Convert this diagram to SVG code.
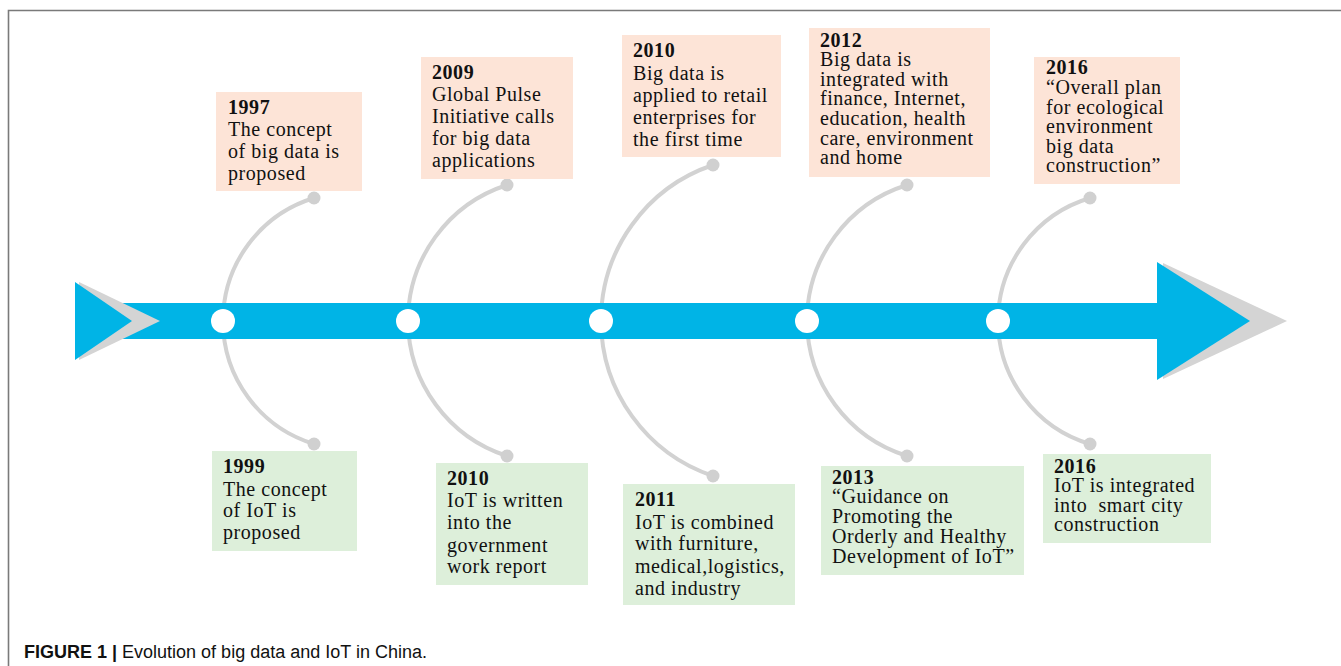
<svg xmlns="http://www.w3.org/2000/svg" width="1341" height="666" viewBox="0 0 1341 666">
<style>
.frame{stroke:#7a7a7a;stroke-width:1.6;fill:none}
.bar{fill:#00b4e6}
.shadow{fill:#d4d4d4}
.arc{fill:none;stroke:#d2d2d2;stroke-width:4}
.dot{fill:#d0d0d0}
.node{fill:#ffffff}
.pink{fill:#fde4d7}
.green{fill:#ddefda}
.t{font-family:"Liberation Serif","Times New Roman",serif;font-size:20px;letter-spacing:0.55px;fill:#111}
.y{font-weight:bold}
.cap{font-family:"Liberation Sans",Arial,sans-serif;font-size:18px;fill:#111}
</style>
<rect x="0" y="0" width="1341" height="666" fill="#ffffff"/>
<path class="frame" d="M8.5,666 V10.5 H1341"/>

<g id="connectors">
<path class="arc" d="M314,198 A128.6,128.6 0 0 0 223,321 A128.6,128.6 0 0 0 314,444"/>
<path class="arc" d="M507,185 A142.9,142.9 0 0 0 408,321 A142.9,142.9 0 0 0 507,456"/>
<path class="arc" d="M713,165 A164.6,164.6 0 0 0 601,321 A164.6,164.6 0 0 0 713,476"/>
<path class="arc" d="M907,185 A142.5,142.5 0 0 0 807,321 A142.5,142.5 0 0 0 907,456"/>
<path class="arc" d="M1090,198 A128.9,128.9 0 0 0 998,321 A128.9,128.9 0 0 0 1090,444"/>
<circle class="dot" cx="314" cy="198" r="6.5"/>
<circle class="dot" cx="314" cy="444" r="6.5"/>
<circle class="dot" cx="507" cy="185" r="6.5"/>
<circle class="dot" cx="507" cy="456" r="6.5"/>
<circle class="dot" cx="713" cy="165" r="6.5"/>
<circle class="dot" cx="713" cy="476" r="6.5"/>
<circle class="dot" cx="907" cy="185" r="6.5"/>
<circle class="dot" cx="907" cy="456" r="6.5"/>
<circle class="dot" cx="1090" cy="198" r="6.5"/>
<circle class="dot" cx="1090" cy="444" r="6.5"/>
</g>

<g id="timeline">
<rect class="bar" x="120" y="303" width="1040" height="36"/>
<polygon class="shadow" points="79,282 160,321 79,360"/>
<polygon class="bar" points="75,282 132,321 75,360"/>
<polygon class="shadow" points="1163,263 1287,321 1163,379"/>
<polygon class="bar" points="1157,262 1250,321 1157,380"/>
<circle class="node" cx="223" cy="321" r="12"/>
<circle class="node" cx="408" cy="321" r="12"/>
<circle class="node" cx="601" cy="321" r="12"/>
<circle class="node" cx="807" cy="321" r="12"/>
<circle class="node" cx="998" cy="321" r="12"/>
</g>

<g id="n1997">
<rect class="pink" x="216" y="92" width="146" height="99"/>
<text class="t" x="228"><tspan class="y" x="228" y="114">1997</tspan><tspan x="228" y="136">The concept</tspan><tspan x="228" y="158">of big data is</tspan><tspan x="228" y="180">proposed</tspan></text>
</g>

<g id="n2009">
<rect class="pink" x="421" y="57" width="152" height="122"/>
<text class="t"><tspan class="y" x="432" y="79">2009</tspan><tspan x="432" y="101">Global Pulse</tspan><tspan x="432" y="123">Initiative calls</tspan><tspan x="432" y="145">for big data</tspan><tspan x="432" y="167">applications</tspan></text>
</g>

<g id="n2010a">
<rect class="pink" x="622" y="35" width="159" height="122"/>
<text class="t"><tspan class="y" x="633" y="57">2010</tspan><tspan x="633" y="80">Big data is</tspan><tspan x="633" y="102">applied to retail</tspan><tspan x="633" y="124">enterprises for</tspan><tspan x="633" y="146">the first time</tspan></text>
</g>

<g id="n2012">
<rect class="pink" x="809" y="28" width="181" height="149"/>
<text class="t"><tspan class="y" x="820" y="47">2012</tspan><tspan x="820" y="66">Big data is</tspan><tspan x="820" y="86">integrated with</tspan><tspan x="820" y="105">finance, Internet,</tspan><tspan x="820" y="125">education, health</tspan><tspan x="820" y="145">care, environment</tspan><tspan x="820" y="164">and home</tspan></text>
</g>

<g id="n2016a">
<rect class="pink" x="1034" y="57" width="146" height="127"/>
<text class="t"><tspan class="y" x="1046" y="74">2016</tspan><tspan x="1046" y="94">“Overall plan</tspan><tspan x="1046" y="114">for ecological</tspan><tspan x="1046" y="133">environment</tspan><tspan x="1046" y="153">big data</tspan><tspan x="1046" y="172">construction”</tspan></text>
</g>

<g id="n1999">
<rect class="green" x="212" y="451" width="145" height="100"/>
<text class="t"><tspan class="y" x="223" y="473">1999</tspan><tspan x="223" y="496">The concept</tspan><tspan x="223" y="517">of IoT is</tspan><tspan x="223" y="539">proposed</tspan></text>
</g>

<g id="n2010b">
<rect class="green" x="436" y="463" width="152" height="122"/>
<text class="t"><tspan class="y" x="447" y="485">2010</tspan><tspan x="447" y="507">IoT is written</tspan><tspan x="447" y="529">into the</tspan><tspan x="447" y="552">government</tspan><tspan x="447" y="573">work report</tspan></text>
</g>

<g id="n2011">
<rect class="green" x="623" y="484" width="172" height="121"/>
<text class="t"><tspan class="y" x="635" y="506">2011</tspan><tspan x="635" y="529">IoT is combined</tspan><tspan x="635" y="550">with furniture,</tspan><tspan x="635" y="573">medical,logistics,</tspan><tspan x="635" y="595">and industry</tspan></text>
</g>

<g id="n2013">
<rect class="green" x="821" y="466" width="203" height="109"/>
<text class="t"><tspan class="y" x="832" y="484">2013</tspan><tspan x="832" y="503">“Guidance on</tspan><tspan x="832" y="523">Promoting the</tspan><tspan x="832" y="543">Orderly and Healthy</tspan><tspan x="832" y="563">Development of IoT”</tspan></text>
</g>

<g id="n2016b">
<rect class="green" x="1043" y="454" width="168" height="89"/>
<text class="t"><tspan class="y" x="1054" y="473">2016</tspan><tspan x="1054" y="492">IoT is integrated</tspan><tspan x="1054" y="512" xml:space="preserve">into  smart city</tspan><tspan x="1054" y="531">construction</tspan></text>
</g>

<g id="caption">
<text class="cap" x="24" y="658"><tspan font-weight="bold">FIGURE 1 | </tspan>Evolution of big data and IoT in China.</text>
</g>
</svg>
